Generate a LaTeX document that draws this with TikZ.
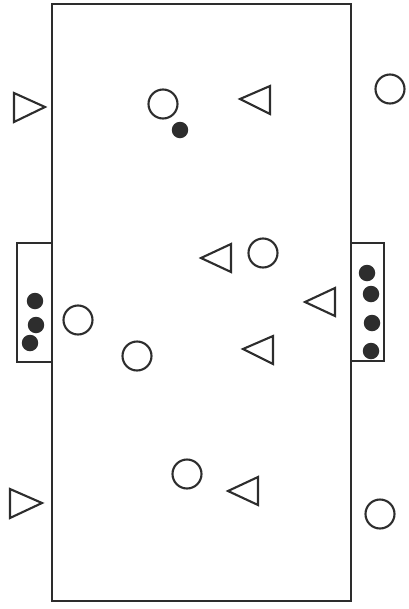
\documentclass[tikz,border=0pt]{standalone}
\usepackage{tikz}
\usetikzlibrary{positioning}
\definecolor{mydark}{RGB}{45,45,45}
\tikzset{
  pitch/.style={draw=mydark, line width=1.4pt},
  goalbox/.style={draw=mydark, line width=1.1pt},
  ring/.style={circle, draw=mydark, line width=1.2pt, minimum size=0.58cm, inner sep=0pt},
  ball/.style={circle, fill=mydark, minimum size=0.33cm, inner sep=0pt},
  cone/.style={draw=mydark, line width=1.2pt, line join=miter}
}
\begin{document}
\begin{tikzpicture}[x=0.02cm, y=-0.02cm]
  \useasboundingbox (0,0) rectangle (409,609);

  % -- Pitch and goals --------------------------------------------
  \draw[pitch] (52,4) rectangle (351,601);
  \draw[goalbox] (52,243) -- (17,243) -- (17,362) -- (52,362);
  \draw[goalbox] (351,243) -- (384,243) -- (384,361) -- (351,361);

  % balls in the goals
  \node[ball] (bl1) at (35,301) {};
  \node[ball] (bl2) at (36,325) {};
  \node[ball] (bl3) at (30,343) {};
  \node[ball] (br1) at (367,273) {};
  \node[ball] (br2) at (371,294) {};
  \node[ball] (br3) at (372,323) {};
  \node[ball] (br4) at (371,351) {};

  % -- Circles ----------------------------------------------------
  \node[ring] (c1) at (163,104) {};
  \node[ball] (b1) at (180,130) {};
  \node[ring] (c2) at (390,89) {};
  \node[ring] (c3) at (263,253) {};
  \node[ring] (c4) at (78,320) {};
  \node[ring] (c5) at (137,356) {};
  \node[ring] (c6) at (187,474) {};
  \node[ring] (c7) at (380,514) {};

  % -- Triangles pointing left ------------------------------------
  \draw[cone] (240,99)  -- ++(30,-13) -- ++(0,28) -- cycle;
  \draw[cone] (201,258) -- ++(30,-14) -- ++(0,28) -- cycle;
  \draw[cone] (305,302) -- ++(30,-14) -- ++(0,28) -- cycle;
  \draw[cone] (243,349) -- ++(30,-13) -- ++(0,28) -- cycle;
  \draw[cone] (228,491) -- ++(30,-14) -- ++(0,28) -- cycle;

  % -- Triangles pointing right -----------------------------------
  \draw[cone] (45,107) -- ++(-31,-14) -- ++(0,29) -- cycle;
  \draw[cone] (42,503) -- ++(-32,-14) -- ++(0,29) -- cycle;
\end{tikzpicture}
\end{document}
